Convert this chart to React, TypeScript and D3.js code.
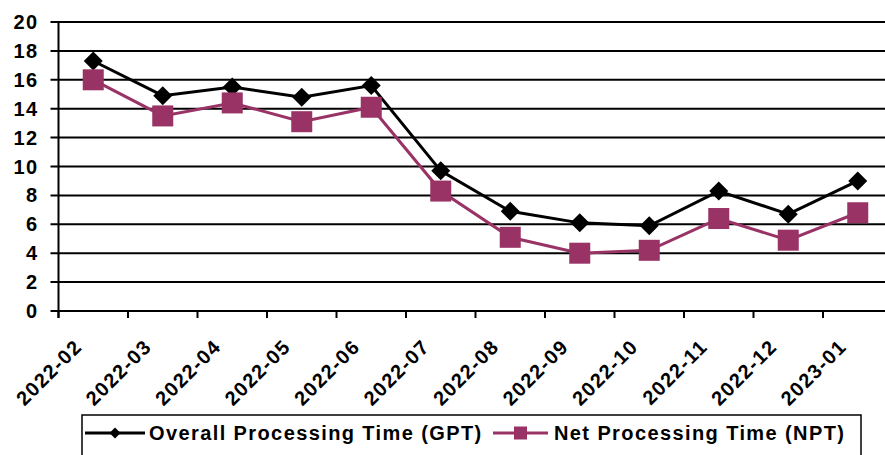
import React from "react";
import * as d3 from "d3";

const categories = [
  "2022-02", "2022-03", "2022-04", "2022-05", "2022-06", "2022-07",
  "2022-08", "2022-09", "2022-10", "2022-11", "2022-12", "2023-01",
];
const gptValues = [17.3, 14.9, 15.5, 14.8, 15.6, 9.7, 6.9, 6.1, 5.9, 8.3, 6.7, 9.0];
const nptValues = [16.0, 13.5, 14.4, 13.1, 14.1, 8.3, 5.1, 4.0, 4.2, 6.4, 4.9, 6.8];
const yTicks = [0, 2, 4, 6, 8, 10, 12, 14, 16, 18, 20];
const seriesNames = ["Overall Processing Time (GPT)", "Net Processing Time (NPT)"];

const W = 885;
const H = 455;
const plotLeft = 58.5;
const band = 69.5;
const FONT = "'Liberation Sans', Arial, sans-serif";
const PURPLE = "#993366";

export default function App() {
  const x = d3.scaleBand<string>().domain(categories).range([plotLeft, plotLeft + band * categories.length]);
  const y = d3.scaleLinear().domain([0, 20]).range([311, 22]);
  const cx = (c: string) => (x(c) as number) + x.bandwidth() / 2;
  const line = d3.line<number>().x((_, i) => cx(categories[i])).y((v) => y(v));
  const diamond = (px: number, py: number, r: number) =>
    `M${px},${py - r}L${px + r},${py}L${px},${py + r}L${px - r},${py}Z`;
  const textStyle = { fontFamily: FONT, fontWeight: 700, fontSize: 20, letterSpacing: 1.4 } as const;

  const bounds = [...categories.map((c) => x(c) as number)];

  return (
    <svg width={W} height={H} style={{ position: "absolute", left: 0, top: 0, background: "#fff" }}>
      <rect x={0} y={0} width={W} height={H} fill="#fff" />
      {/* gridlines */}
      {yTicks.map((t) => (
        <line key={"g" + t} x1={plotLeft - 8} x2={W + 20} y1={y(t)} y2={y(t)} stroke="#000" strokeWidth={2} />
      ))}
      {/* y axis */}
      <line x1={plotLeft} x2={plotLeft} y1={y(20)} y2={y(0) + 7} stroke="#000" strokeWidth={2} />
      {bounds.map((b, i) => (
        <line key={"xt" + i} x1={b} x2={b} y1={y(0)} y2={y(0) + 7} stroke="#000" strokeWidth={2} />
      ))}
      {yTicks.map((t) => (
        <text key={"yl" + t} x={38.5} y={y(t) + 7} textAnchor="end" style={textStyle} fill="#000">
          {t}
        </text>
      ))}
      {categories.map((c) => {
        const px = cx(c) - 10;
        const py = 348;
        return (
          <text key={"xl" + c} x={px} y={py} textAnchor="end" transform={`rotate(-45 ${px} ${py})`} style={textStyle} fill="#000">
            {c}
          </text>
        );
      })}
      {/* GPT series */}
      <path d={line(gptValues) || ""} fill="none" stroke="#000" strokeWidth={3} />
      {gptValues.map((v, i) => (
        <path key={"gd" + i} d={diamond(cx(categories[i]), y(v), 9.5)} fill="#000" />
      ))}
      {/* NPT series */}
      <path d={line(nptValues) || ""} fill="none" stroke={PURPLE} strokeWidth={3} />
      {nptValues.map((v, i) => (
        <rect key={"ns" + i} x={cx(categories[i]) - 10.5} y={y(v) - 10.5} width={21} height={21} fill={PURPLE} />
      ))}
      {/* legend */}
      <rect x={82} y={415} width={779} height={60} fill="#fff" stroke="#000" strokeWidth={1.5} />
      <line x1={85} x2={145} y1={433} y2={433} stroke="#000" strokeWidth={3} />
      <path d={diamond(115, 433, 5.5)} fill="#000" />
      <text x={149} y={440} style={textStyle} fill="#000">{seriesNames[0]}</text>
      <line x1={493} x2={548} y1={433} y2={433} stroke={PURPLE} strokeWidth={3} />
      <rect x={514} y={426.5} width={13} height={13} fill={PURPLE} />
      <text x={554} y={440} style={textStyle} fill="#000">{seriesNames[1]}</text>
    </svg>
  );
}
